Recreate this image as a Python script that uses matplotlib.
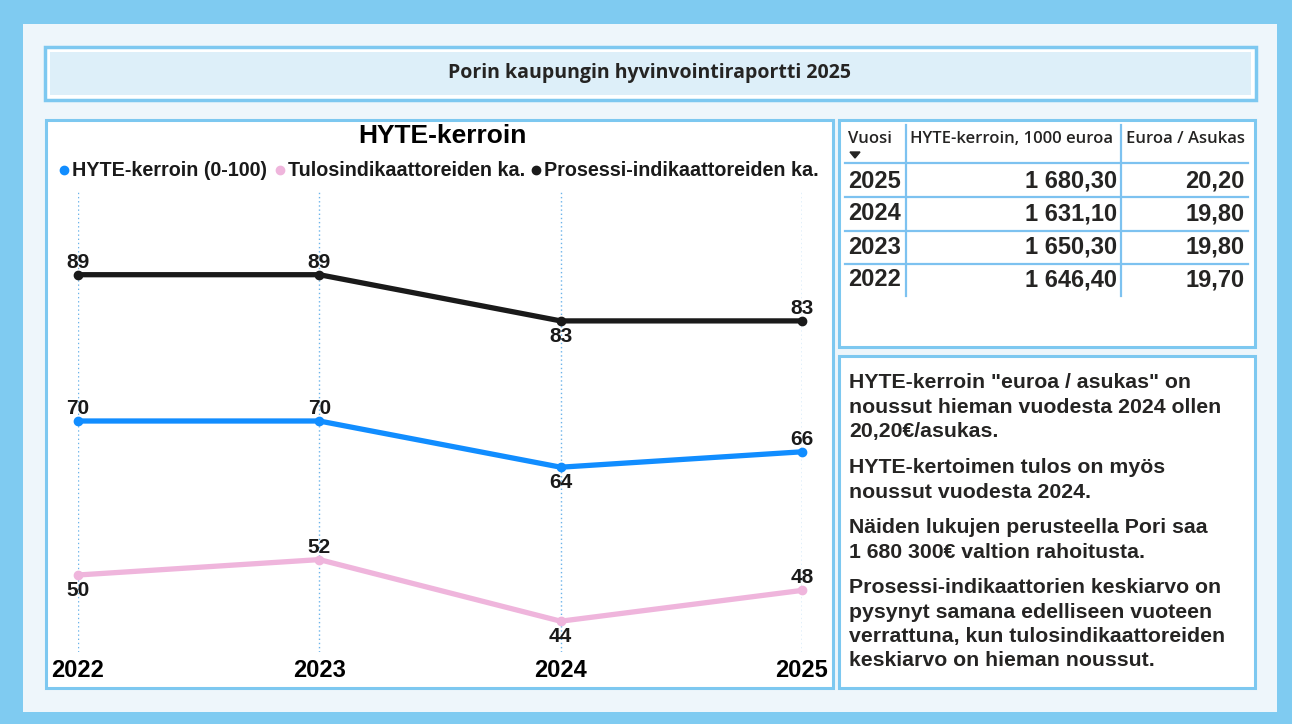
import matplotlib.pyplot as plt
from matplotlib.patches import Rectangle

# --- data ---
years = [2022, 2023, 2024, 2025]
series_names = ["HYTE-kerroin (0-100)", "Tulosindikaattoreiden ka.", "Prosessi-indikaattoreiden ka."]
hyte = [70, 70, 64, 66]
tulos = [50, 52, 44, 48]
prosessi = [89, 89, 83, 83]

table_header = ["Vuosi", "HYTE-kerroin, 1000 euroa", "Euroa / Asukas"]
table_years = [2025, 2024, 2023, 2022]
table_hyte_1000 = [1680.30, 1631.10, 1650.30, 1646.40]
table_euro_asukas = [20.20, 19.80, 19.80, 19.70]

report_title = "Porin kaupungin hyvinvointiraportti 2025"
chart_title = "HYTE-kerroin"
paragraphs = [
    ['HYTE-kerroin "euroa / asukas" on', "noussut hieman vuodesta 2024 ollen", "20,20€/asukas."],
    ["HYTE-kertoimen tulos on myös", "noussut vuodesta 2024."],
    ["Näiden lukujen perusteella Pori saa", "1 680 300€ valtion rahoitusta."],
    ["Prosessi-indikaattorien keskiarvo on", "pysynyt samana edelliseen vuoteen",
     "verrattuna, kun tulosindikaattoreiden", "keskiarvo on hieman noussut."],
]

# --- style ---
NARROW = ["Liberation Sans Narrow", "Liberation Sans", "DejaVu Sans"]
ARIAL = ["Liberation Sans", "DejaVu Sans"]
SEGOE = ["Open Sans", "DejaVu Sans"]
OUTER = "#7FCBF1"
INNER = "#EEF6FB"
BORDER = "#7DC8F0"
colors = ["#118DFF", "#EFB5DC", "#1A1A1A"]
label_pos = [["a", "a", "b", "a"], ["b", "a", "b", "a"], ["a", "a", "b", "a"]]


def fmt_fi(v):
    s = f"{v:,.2f}"
    return s.replace(",", " ").replace(".", ",")


W, H = 1292, 724
fig = plt.figure(figsize=(W / 100, H / 100), dpi=100)
fig.patch.set_facecolor(OUTER)

# background canvas in pixel coordinates
bg = fig.add_axes([0, 0, 1, 1], zorder=0)
bg.set_xlim(0, W)
bg.set_ylim(H, 0)
bg.axis("off")


def box(x0, y0, x1, y1, fc, ec=None, lw=0):
    bg.add_patch(Rectangle((x0, y0), x1 - x0, y1 - y0, facecolor=fc,
                           edgecolor=ec if ec else "none", linewidth=lw))


box(23, 24, 1277, 712, INNER)
# title box
box(45, 47, 1256, 100, "white", BORDER, 2.5)
box(50, 52, 1251, 95, "#DDEFF9")
bg.text(650, 73, report_title, ha="center", va="center", fontsize=14,
        fontweight="bold", family=SEGOE, color="#252423")
# panels
box(46, 120, 833, 688, "white", BORDER, 2.2)
box(839, 120, 1255, 347, "white", BORDER, 2.2)
box(839, 356, 1255, 688, "white", BORDER, 2.2)

# chart title + legend
bg.text(442, 136, chart_title, ha="center", va="center", fontsize=19,
        fontweight="bold", family=NARROW, color="black")
leg_x = [64, 280, 536]
for lx, name, c in zip(leg_x, series_names, colors):
    bg.plot(lx, 170, "o", color=c, markersize=6)
    bg.text(lx + 8, 170, name, ha="left", va="center", fontsize=14.2,
            fontweight="bold", family=NARROW, color="#1A1A1A")

# --- line chart ---
ax = fig.add_axes([78 / W, 1 - 652 / H, (802 - 78) / W, (652 - 190) / H], zorder=1)
ax.set_facecolor("none")
ax.set_xlim(years[0], years[-1])
ax.set_ylim(40, 100)
for s in ax.spines.values():
    s.set_visible(False)
ax.set_yticks([])
ax.set_xticks(years)
ax.set_xticklabels([str(y) for y in years], fontsize=17, fontweight="bold",
                   family=NARROW)
ax.tick_params(axis="x", length=0, pad=5)
ax.grid(axis="x", color="#6BB3EA", linestyle=(0, (1, 2)), linewidth=1)

for vals, c, pos in zip([hyte, tulos, prosessi], colors, label_pos):
    ax.plot(years, vals, color=c, linewidth=3.8, marker="o", markersize=6,
            solid_capstyle="round", clip_on=False, zorder=3)
    for x, v, p in zip(years, vals, pos):
        off = 9 if p == "a" else -11
        ax.annotate(str(v), (x, v), xytext=(0, off), textcoords="offset points",
                    ha="center", va="center", fontsize=15, fontweight="bold",
                    family=NARROW, color="#1A1A1A", zorder=4)

# --- table ---
hdr_y = 139
hkw = dict(va="center", fontsize=12, fontweight="semibold", family=SEGOE, color="#252423")
bg.text(848, hdr_y, table_header[0], ha="left", **hkw)
bg.text(910, hdr_y, table_header[1], ha="left", **hkw)
bg.text(1245, hdr_y, table_header[2], ha="right", **hkw)
bg.fill([850, 860, 855], [152, 152, 158], color="#252423")
for yy in [163, 197, 231, 264]:
    bg.plot([845, 1248], [yy, yy], color="#7DC2F0", lw=1.6)
for xx in [906, 1121]:
    bg.plot([xx, xx], [125, 296], color="#7DC2F0", lw=1.6)
for i, (yr, hv, ev) in enumerate(zip(table_years, table_hyte_1000, table_euro_asukas)):
    ry = 181 + i * 33
    kw = dict(va="center", fontsize=17, fontweight="bold", family=ARIAL, color="#252423")
    bg.text(848, ry, str(yr), ha="left", **kw)
    bg.text(1117, ry, fmt_fi(hv), ha="right", **kw)
    bg.text(1245, ry, fmt_fi(ev), ha="right", **kw)

# --- commentary text ---
ty = 383
for para in paragraphs:
    for line in para:
        bg.text(849, ty, line, ha="left", va="center", fontsize=15.3,
                fontweight="bold", family=ARIAL, color="#252423")
        ty += 24.5
    ty += 11

fig.savefig("out.png", dpi=100, facecolor=fig.get_facecolor())
